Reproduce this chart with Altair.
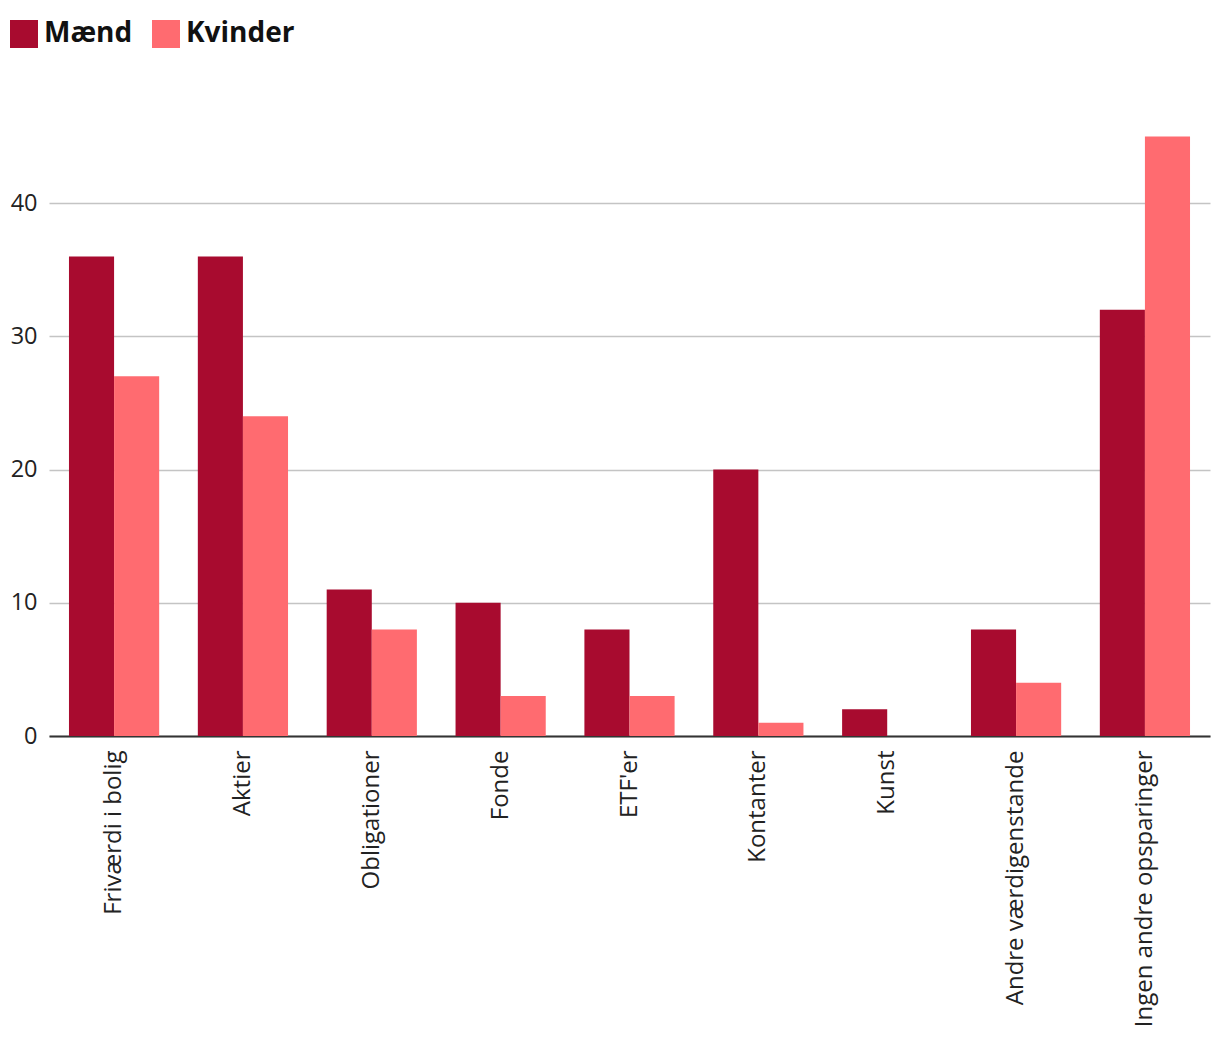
import altair as alt
import pandas as pd

categories = ["Friværdi i bolig", "Aktier", "Obligationer", "Fonde", "ETF'er",
              "Kontanter", "Kunst", "Andre værdigenstande", "Ingen andre opsparinger"]
maend = [36, 36, 11, 10, 8, 20, 2, 8, 32]
kvinder = [27, 24, 8, 3, 3, 1, 0, 4, 45]
series = ["Mænd", "Kvinder"]
colors = ["#a80b2f", "#ff6b70"]

rows = []
for c, m, k in zip(categories, maend, kvinder):
    rows.append({"kategori": c, "køn": "Mænd", "værdi": m})
    rows.append({"kategori": c, "køn": "Kvinder", "værdi": k})
df = pd.DataFrame(rows)

FONT = "Open Sans"

chart = alt.Chart(df).mark_bar().encode(
    x=alt.X("kategori:N", sort=categories,
            scale=alt.Scale(paddingInner=0.3, paddingOuter=0.155),
            axis=alt.Axis(title=None, labelAngle=-90, labelFontSize=24, labelFont=FONT,
                          labelColor="#222", ticks=False, domainColor="#333", domainWidth=2,
                          labelPadding=14, labelLimit=400)),
    xOffset=alt.XOffset("køn:N", sort=series),
    y=alt.Y("værdi:Q", scale=alt.Scale(domain=[0, 50], nice=False),
            axis=alt.Axis(title=None, values=[0, 10, 20, 30, 40], labelFontSize=23.5,
                          labelFont=FONT, labelColor="#222", ticks=False, domain=False,
                          gridColor="#c4c4c4", gridWidth=1.5, labelPadding=12)),
    color=alt.Color("køn:N", sort=series,
                    scale=alt.Scale(domain=series, range=colors),
                    legend=alt.Legend(title=None, orient="none", legendX=-39, legendY=-50,
                                      direction="horizontal", symbolType="square",
                                      symbolSize=784, symbolStrokeWidth=0, symbolOpacity=1,
                                      labelFontSize=28, labelFontWeight="bold",
                                      labelFont=FONT, labelColor="#111",
                                      columnPadding=19, labelOffset=6)),
).properties(
    width=1161, height=666,
    autosize=alt.AutoSizeParams(type="none"),
    padding={"left": 41, "top": 62, "right": 2, "bottom": 300},
).configure_view(stroke=None)

chart.save("out.html", embed_options={"renderer": "svg", "actions": False})
